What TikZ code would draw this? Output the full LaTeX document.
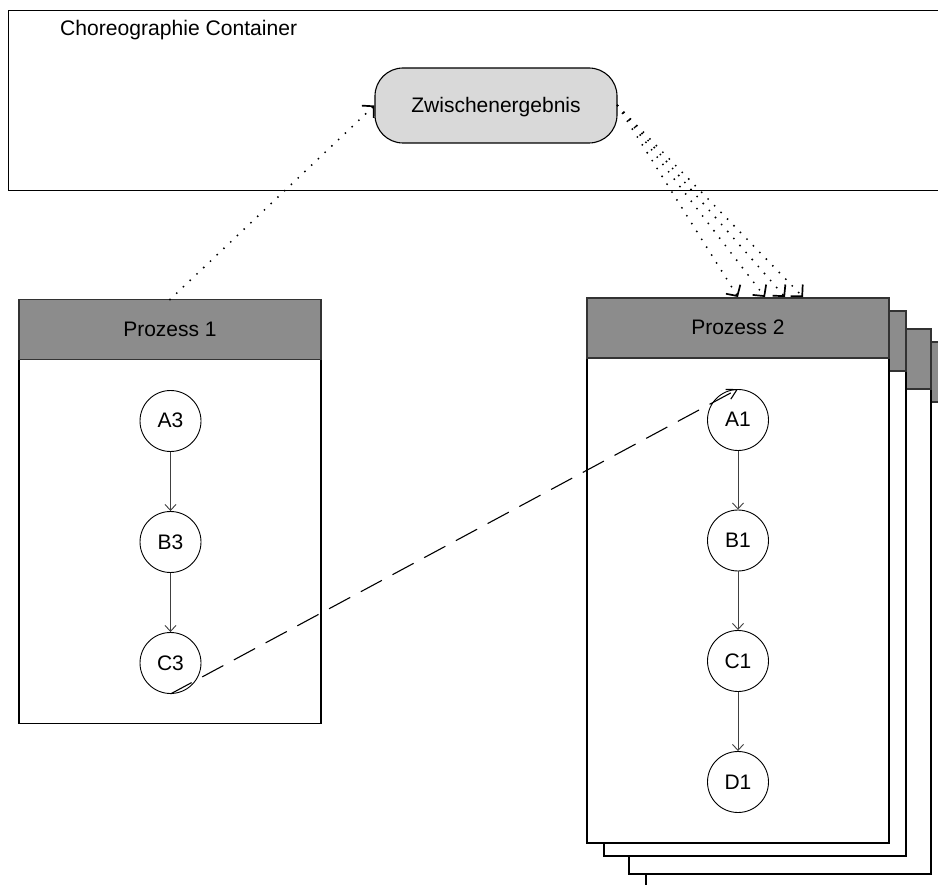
\documentclass[tikz,border=0pt]{standalone}
\usepackage{fontspec}
\setmainfont{Liberation Sans}
\usetikzlibrary{arrows.meta,calc}
\definecolor{headgray}{HTML}{8C8C8C}
\definecolor{resultgray}{HTML}{D9D9D9}
\begin{document}
\begin{tikzpicture}[x=1pt,y=-1pt,
  lbl/.style={font=\fontsize{21}{25}\selectfont, text height=15.5pt, text depth=1.5pt},
  sheet/.style={draw=black, line width=1.1pt, fill=white, inner sep=0pt, outer sep=0pt,
    minimum width=302pt, minimum height=545pt, anchor=north west},
  sheethead/.style={draw=black!80, line width=1.1pt, fill=headgray, inner sep=0pt, outer sep=0pt,
    minimum width=302pt, minimum height=60pt, anchor=north west, lbl},
  activity/.style={circle, draw=black, line width=0.9pt, fill=white, minimum size=61pt,
    inner sep=0pt, lbl},
  flow/.style={draw=black!75, line width=0.9pt, -{Straight Barb[length=6pt, width=11pt, line width=0.9pt]}},
  datalink/.style={line width=2.1pt, line cap=round, dash pattern=on 0pt off 9.3pt,
    -{Straight Barb[length=8pt, width=17pt, line width=1.7pt, line cap=butt]}},
  msglink/.style={line width=1.1pt, dash pattern=on 24pt off 12pt,
    -{Straight Barb[length=10pt, width=11pt, line width=1.1pt]}}
]
\useasboundingbox (0,0) rectangle (938,885);
\clip (0,0) rectangle (938,885);

% choreography container
\node[draw=black, line width=1.1pt, inner sep=0pt, minimum width=945pt, minimum height=180pt,
  anchor=north west] (cont) at (8,10) {};
\node[font=\fontsize{21.1}{25}\selectfont, anchor=base west, inner sep=0pt] (conttitle)
  at (60,36) {Choreographie Container};

% intermediate result
\node[draw=black, line width=1.1pt, fill=resultgray, rounded corners=28pt,
  minimum width=242pt, minimum height=75pt, inner sep=0pt, lbl] (Z) at (496,105.5) {Zwischenergebnis};

% process 1
\node[sheet, minimum height=424pt] (P1) at (19,299.5) {};
\node[sheethead] (P1h) at (19,299.5) {Prozess 1};
\node[activity] (A3) at (170.5,421) {A3};
\node[activity] (B3) at (170.5,542) {B3};
\node[activity] (C3) at (170.5,663) {C3};
\draw[flow] (A3) -- (B3);
\draw[flow] (B3) -- (C3);

% process 2, stacked instances (back to front)
\node[sheet] (P2d) at (646,342) {};
\node[sheethead] (P2dh) at (646,342) {};
\node[sheet] (P2c) at (629,329) {};
\node[sheethead] (P2ch) at (629,329) {};
\node[sheet] (P2b) at (604,311) {};
\node[sheethead] (P2bh) at (604,311) {};
\node[sheet] (P2) at (587,298) {};
\node[sheethead] (P2h) at (587,298) {Prozess 2};
\node[activity] (A1) at (738,420) {A1};
\node[activity] (B1) at (738,540.5) {B1};
\node[activity] (C1) at (738,661) {C1};
\node[activity] (D1) at (738,782) {D1};
\draw[flow] (A1) -- (B1);
\draw[flow] (B1) -- (C1);
\draw[flow] (C1) -- (D1);

% data links to and from the intermediate result
\coordinate (t1) at ($(P2h.north west)+(151,-1)$);
\coordinate (t2) at ($(P2h.north west)+(178,-1)$);
\coordinate (t3) at ($(P2h.north west)+(198,-1)$);
\coordinate (t4) at ($(P2h.north west)+(216,-1)$);
\draw[datalink] (P1h.north) -- (Z.west);
\draw[datalink] (Z.east) -- (t1);
\draw[datalink] (Z.east) -- (t2);
\draw[datalink] (Z.east) -- (t3);
\draw[datalink] (Z.east) -- (t4);

% message between the processes
\draw[msglink] (C3.south) -- (A1.north);
\end{tikzpicture}
\end{document}
